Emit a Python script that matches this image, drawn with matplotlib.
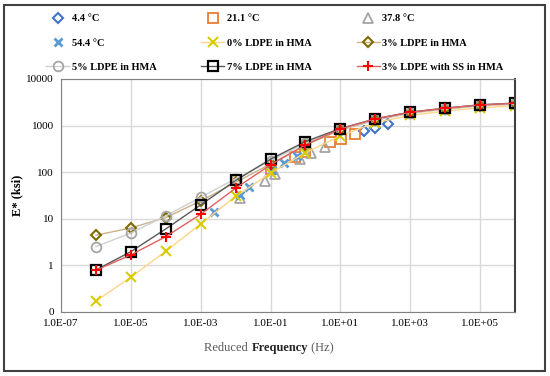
import matplotlib
matplotlib.use("Agg")
import matplotlib.pyplot as plt
from matplotlib.offsetbox import TextArea, HPacker, AnchoredOffsetbox
from matplotlib.patches import Rectangle

plt.rcParams['font.family'] = ['Liberation Serif', 'DejaVu Serif']

# master-curve frequencies for the mixtures (Hz)
freq = [1e-6, 1e-5, 1e-4, 1e-3, 1e-2, 1e-1, 1e0, 1e1, 1e2, 1e3, 1e4, 1e5, 1e6]
ldpe0 = [0.17, 0.55, 2.0, 7.7, 30, 95, 260, 600, 1150, 1650, 2050, 2400, 2650]
ldpe3 = [4.4, 6.3, 10.5, 24, 60, 150, 380, 800, 1300, 1850, 2250, 2650, 2900]
ldpe5 = [2.5, 4.9, 11.4, 28.8, 72, 175, 420, 830, 1350, 1900, 2300, 2700, 2950]
ldpe7 = [0.79, 1.95, 6.0, 19.7, 66, 189, 453, 862, 1393, 1941, 2366, 2788, 3033]
ldpe3ss = [0.78, 1.66, 4.1, 12.4, 45, 143, 385, 849, 1393, 1930, 2350, 2770, 3010]

# measured points at each temperature
t4_f = [47, 96, 231]
t4_e = [769, 879, 1072]
t21_f = [0.1, 0.5, 1.0, 5.0, 10.3, 25.5]
t21_e = [115, 209, 268, 440, 517, 653]
t37_f = [0.0137, 0.0715, 0.138, 0.69, 1.4, 3.6]
t37_e = [27.5, 64.7, 91.5, 189, 255, 353]
t54_f = [0.00234, 0.0137, 0.0248, 0.111, 0.25, 0.59]
t54_e = [13.9, 32, 48.8, 111, 154, 223]

xticks = [1e-7, 1e-5, 1e-3, 1e-1, 1e1, 1e3, 1e5]
xlabels = ['1.0E-07', '1.0E-05', '1.0E-03', '1.0E-01', '1.0E+01', '1.0E+03', '1.0E+05']
yticks = [0.1, 1, 10, 100, 1000, 10000]
ylabels = ['0', '1', '10', '100', '1000', '10000']

fig = plt.figure(figsize=(5.5, 3.76), dpi=100)
ax = fig.add_axes([61/550, 1-311.7/376, (515-61)/550, (311.7-79)/376])

h_t4, = ax.plot(t4_f, t4_e, ls='none', marker='D', ms=5, mfc='none', mec='#4472C4', mew=1.5, label='4.4 °C')
h_t21, = ax.plot(t21_f, t21_e, ls='none', marker='s', ms=7, mfc='none', mec='#ED7D31', mew=1.3, label='21.1 °C')
h_t37, = ax.plot(t37_f, t37_e, ls='none', marker='^', ms=7, mfc='none', mec='#A5A5A5', mew=1.3, label='37.8 °C')
h_t54, = ax.plot(t54_f, t54_e, ls='none', marker='x', ms=6, mec='#5B9BD5', mew=2, label='54.4 °C')

h0, = ax.plot(freq, ldpe0, color='#FFD58A', lw=1, marker='x', ms=7, mec='#D9CC00', mew=1.5, label='0% LDPE in HMA')
h3, = ax.plot(freq, ldpe3, color='#C9B48C', lw=1, marker='D', ms=5, mfc='none', mec='#7F6A00', mew=1.5, label='3% LDPE in HMA')
h5, = ax.plot(freq, ldpe5, color='#D0D0D0', lw=1, marker='o', ms=7, mfc='none', mec='#A6A6A6', mew=1.3, label='5% LDPE in HMA')
h7, = ax.plot(freq, ldpe7, color='#595959', lw=1, marker='s', ms=7, mfc='none', mec='black', mew=1.6, label='7% LDPE in HMA')
hs, = ax.plot(freq, ldpe3ss, color='#E06060', lw=1, marker='+', ms=7, mec='red', mew=1.5, label='3% LDPE with SS in HMA')

ax.set_xscale('log')
ax.set_yscale('log')
ax.set_xlim(1e-7, 1e6)
ax.set_ylim(0.1, 10000)
ax.set_xticks(xticks)
ax.set_xticklabels(xlabels)
ax.set_yticks(yticks)
ax.set_yticklabels(ylabels)
ax.minorticks_off()
ax.tick_params(length=0, labelsize=8, pad=5)
ax.grid(True, color='#D9D9D9', lw=1)
ax.set_axisbelow(True)
for s in ax.spines.values():
    s.set_color('#808080')
ax.spines['right'].set_color('#404040')
ax.spines['right'].set_linewidth(1.5)

ax.set_ylabel('E* (ksi)', fontsize=9, fontweight='bold')
ax.yaxis.set_label_coords(-0.083, 0.5)

# x label with bold middle word
parts = [TextArea('Reduced ', textprops=dict(fontsize=9, color='#595959')),
         TextArea('Frequency', textprops=dict(fontsize=9, color='#262626', fontweight='bold')),
         TextArea(' (Hz)', textprops=dict(fontsize=9, color='#595959'))]
box = HPacker(children=parts, align='baseline', pad=0, sep=0)
anch = AnchoredOffsetbox(loc='center', child=box, frameon=False,
                         bbox_to_anchor=(0.458, -0.156), bbox_transform=ax.transAxes, borderpad=0)
ax.add_artist(anch)

handles = [h_t4, h_t54, h5, h_t21, h0, h7, h_t37, h3, hs]
fig.legend(handles=handles, labels=[h.get_label() for h in handles], ncol=3,
           loc='upper left', bbox_to_anchor=(37/550, 0.988), frameon=False,
           prop=dict(weight='bold', size=7.5), handlelength=2.2, handletextpad=0.25,
           columnspacing=4.3, labelspacing=1.45)

fig.add_artist(Rectangle((4/550, 1-371/376), 541/550, 366/376, transform=fig.transFigure,
                         fill=False, edgecolor='#404040', lw=1.5))

fig.savefig('out.png', dpi=100)
